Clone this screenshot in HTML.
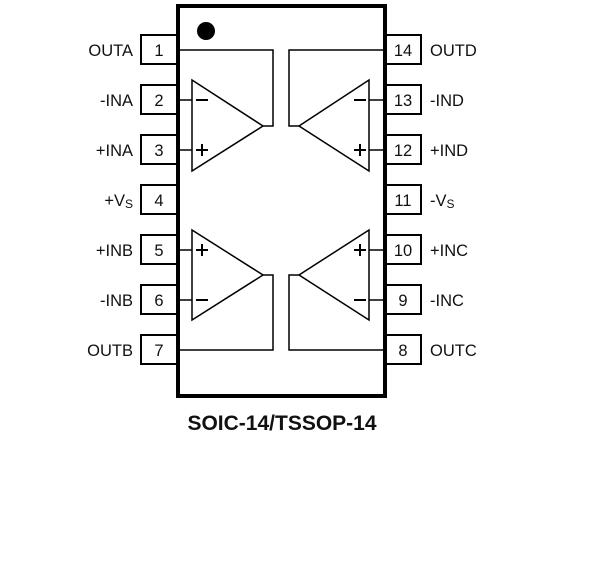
<!DOCTYPE html>
<html><head><meta charset="utf-8"><style>
html,body{margin:0;padding:0;background:#fff;width:609px;height:571px;overflow:hidden}
svg text{font-family:"Liberation Sans",Arial,sans-serif;font-size:16.5px;fill:#111}
</style></head><body>
<svg width="609" height="571" viewBox="0 0 609 571" xmlns="http://www.w3.org/2000/svg">
<g fill="none" stroke="#000" stroke-width="2">
<rect x="141" y="35" width="36" height="29"/>
<rect x="141" y="85" width="36" height="29"/>
<rect x="141" y="135" width="36" height="29"/>
<rect x="141" y="185" width="36" height="29"/>
<rect x="141" y="235" width="36" height="29"/>
<rect x="141" y="285" width="36" height="29"/>
<rect x="141" y="335" width="36" height="29"/>
<rect x="386" y="35" width="35" height="29"/>
<rect x="386" y="85" width="35" height="29"/>
<rect x="386" y="135" width="35" height="29"/>
<rect x="386" y="185" width="35" height="29"/>
<rect x="386" y="235" width="35" height="29"/>
<rect x="386" y="285" width="35" height="29"/>
<rect x="386" y="335" width="35" height="29"/>
</g>
<rect x="178" y="6" width="207" height="390" fill="#fff" stroke="#000" stroke-width="4"/>
<circle cx="206" cy="31" r="9" fill="#000"/>
<g fill="none" stroke="#000" stroke-width="1.5">
<polygon points="192,80 192,171 263,126"/>
<polyline points="263,126 273,126 273,50 180,50"/>
<line x1="180" y1="100" x2="192" y2="100"/><line x1="180" y1="150" x2="192" y2="150"/>
<polygon points="192,230 192,320 263,275"/>
<polyline points="263,275 273,275 273,350 180,350"/>
<line x1="180" y1="250" x2="192" y2="250"/><line x1="180" y1="300" x2="192" y2="300"/>
<polygon points="369,80 369,171 299,126"/>
<polyline points="299,126 289,126 289,50 383,50"/>
<line x1="369" y1="100" x2="383" y2="100"/><line x1="369" y1="150" x2="383" y2="150"/>
<polygon points="369,230 369,320 299,275"/>
<polyline points="299,275 289,275 289,350 383,350"/>
<line x1="369" y1="250" x2="383" y2="250"/><line x1="369" y1="300" x2="383" y2="300"/>
</g>
<g stroke="#000" stroke-width="2">
<line x1="196" y1="100" x2="208" y2="100"/>
<line x1="196" y1="150" x2="208" y2="150"/><line x1="202" y1="144" x2="202" y2="156"/>
<line x1="196" y1="250" x2="208" y2="250"/><line x1="202" y1="244" x2="202" y2="256"/>
<line x1="196" y1="300" x2="208" y2="300"/>
<line x1="354" y1="100" x2="366" y2="100"/>
<line x1="354" y1="150" x2="366" y2="150"/><line x1="360" y1="144" x2="360" y2="156"/>
<line x1="354" y1="250" x2="366" y2="250"/><line x1="360" y1="244" x2="360" y2="256"/>
<line x1="354" y1="300" x2="366" y2="300"/>
</g>
<g text-anchor="middle">
<text x="159" y="56">1</text><text x="159" y="106">2</text><text x="159" y="156">3</text>
<text x="159" y="206">4</text><text x="159" y="256">5</text><text x="159" y="306">6</text>
<text x="159" y="356">7</text>
<text x="403" y="56">14</text><text x="403" y="106">13</text><text x="403" y="156">12</text>
<text x="403" y="206">11</text><text x="403" y="256">10</text><text x="403" y="306">9</text>
<text x="403" y="356">8</text>
</g>
<g text-anchor="end">
<text x="133" y="56">OUTA</text><text x="133" y="106">-INA</text><text x="133" y="156">+INA</text>
<text x="133" y="206">+V<tspan font-size="12" dy="2">S</tspan></text>
<text x="133" y="256">+INB</text><text x="133" y="306">-INB</text><text x="133" y="356">OUTB</text>
</g>
<g>
<text x="430" y="56">OUTD</text><text x="430" y="106">-IND</text><text x="430" y="156">+IND</text>
<text x="430" y="206">-V<tspan font-size="12" dy="2">S</tspan></text>
<text x="430" y="256">+INC</text><text x="430" y="306">-INC</text><text x="430" y="356">OUTC</text>
</g>
<text x="282" y="430" text-anchor="middle" style="font-size:21px;font-weight:bold">SOIC-14/TSSOP-14</text>
</svg>
</body></html>
